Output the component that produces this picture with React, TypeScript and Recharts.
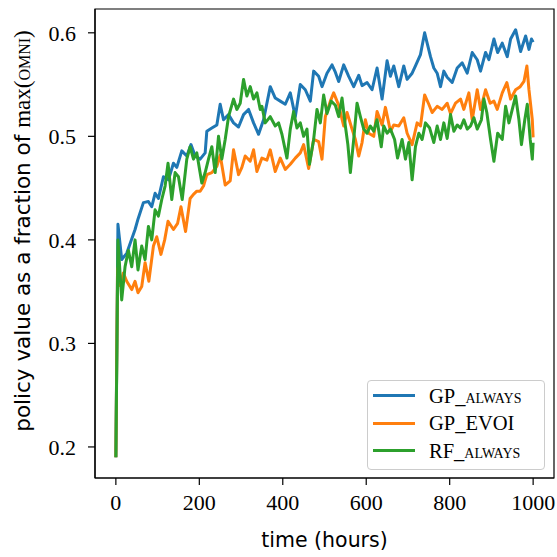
import { LineChart, Line, XAxis, YAxis, ReferenceArea } from 'recharts'

// [hours, fraction of max(OMNI)]
const gpAlways: [number, number][] = [
  [0, 0.19], [5, 0.415], [14, 0.381], [26, 0.387], [46, 0.41], [53, 0.42], [66, 0.436], [78, 0.437],
  [86, 0.432], [94, 0.445], [102, 0.44], [114, 0.461], [126, 0.458], [138, 0.474], [146, 0.47], [158, 0.486],
  [170, 0.481], [180, 0.492], [190, 0.481], [202, 0.478], [214, 0.484], [218, 0.505], [230, 0.508], [242, 0.511],
  [250, 0.531], [258, 0.516], [270, 0.521], [282, 0.513], [294, 0.509], [306, 0.521], [318, 0.526], [330, 0.513],
  [342, 0.502], [354, 0.516], [370, 0.548], [382, 0.537], [394, 0.534], [406, 0.531], [418, 0.542], [430, 0.519],
  [442, 0.55], [454, 0.545], [466, 0.534], [474, 0.563], [486, 0.558], [494, 0.548], [506, 0.561], [518, 0.569],
  [526, 0.562], [534, 0.553], [546, 0.569], [558, 0.558], [570, 0.548], [582, 0.559], [590, 0.549], [602, 0.552],
  [614, 0.545], [626, 0.566], [638, 0.536], [650, 0.573], [658, 0.558], [666, 0.568], [678, 0.548], [690, 0.568],
  [698, 0.555], [710, 0.561], [718, 0.568], [730, 0.579], [740, 0.6], [746, 0.59], [754, 0.577], [762, 0.566],
  [770, 0.561], [778, 0.548], [786, 0.563], [794, 0.557], [806, 0.552], [818, 0.566], [830, 0.571], [842, 0.561],
  [854, 0.581], [866, 0.574], [874, 0.563], [886, 0.581], [894, 0.574], [906, 0.594], [915, 0.581], [926, 0.59],
  [938, 0.577], [946, 0.594], [958, 0.603], [970, 0.582], [982, 0.597], [990, 0.584], [996, 0.594], [1000, 0.591],
]

const gpEvoi: [number, number][] = [
  [0, 0.19], [4, 0.372], [10, 0.356], [18, 0.368], [26, 0.36], [38, 0.352], [46, 0.36], [53, 0.349],
  [62, 0.355], [70, 0.378], [79, 0.36], [90, 0.394], [98, 0.403], [108, 0.386], [117, 0.4], [125, 0.418],
  [138, 0.41], [148, 0.416], [156, 0.432], [167, 0.408], [178, 0.44], [186, 0.444], [194, 0.447], [202, 0.447],
  [210, 0.452], [218, 0.463], [230, 0.465], [242, 0.471], [250, 0.482], [262, 0.453], [274, 0.457], [282, 0.487],
  [294, 0.463], [302, 0.47], [310, 0.481], [322, 0.476], [330, 0.487], [338, 0.466], [350, 0.479], [362, 0.477],
  [370, 0.487], [382, 0.466], [394, 0.479], [406, 0.468], [418, 0.473], [430, 0.479], [442, 0.484], [450, 0.492],
  [462, 0.469], [474, 0.497], [486, 0.495], [494, 0.478], [502, 0.519], [514, 0.534], [522, 0.542], [534, 0.53],
  [546, 0.51], [554, 0.523], [566, 0.507], [574, 0.497], [582, 0.481], [590, 0.494], [598, 0.516], [606, 0.503],
  [618, 0.5], [626, 0.524], [638, 0.511], [646, 0.528], [658, 0.505], [666, 0.511], [678, 0.51], [690, 0.518],
  [698, 0.503], [710, 0.492], [722, 0.513], [730, 0.51], [740, 0.54], [750, 0.531], [758, 0.523], [770, 0.529],
  [782, 0.526], [794, 0.532], [802, 0.522], [814, 0.532], [826, 0.536], [834, 0.526], [846, 0.542], [854, 0.516],
  [866, 0.545], [874, 0.526], [886, 0.545], [897, 0.532], [906, 0.534], [914, 0.526], [926, 0.542], [937, 0.552],
  [946, 0.536], [958, 0.545], [969, 0.548], [978, 0.553], [985, 0.568], [990, 0.545], [998, 0.516], [1000, 0.499],
]

const rfAlways: [number, number][] = [
  [0, 0.19], [5, 0.4], [14, 0.342], [22, 0.374], [30, 0.39], [38, 0.374], [46, 0.4], [53, 0.371],
  [62, 0.394], [70, 0.381], [78, 0.413], [86, 0.4], [94, 0.429], [102, 0.423], [110, 0.439], [118, 0.452],
  [125, 0.474], [134, 0.439], [142, 0.465], [150, 0.461], [159, 0.439], [170, 0.478], [178, 0.49], [186, 0.478],
  [194, 0.484], [206, 0.455], [214, 0.465], [222, 0.478], [230, 0.49], [238, 0.465], [246, 0.5], [254, 0.478],
  [262, 0.497], [270, 0.519], [282, 0.536], [290, 0.526], [298, 0.532], [306, 0.555], [314, 0.539], [322, 0.548],
  [330, 0.536], [338, 0.542], [346, 0.526], [350, 0.529], [358, 0.513], [370, 0.519], [382, 0.51], [390, 0.513],
  [398, 0.502], [410, 0.479], [418, 0.507], [426, 0.524], [434, 0.508], [442, 0.513], [450, 0.5], [458, 0.507],
  [464, 0.473], [474, 0.497], [482, 0.526], [490, 0.513], [498, 0.54], [506, 0.522], [516, 0.534], [526, 0.53],
  [534, 0.519], [542, 0.537], [550, 0.51], [556, 0.492], [562, 0.465], [570, 0.497], [578, 0.532], [586, 0.519],
  [594, 0.507], [602, 0.503], [610, 0.51], [618, 0.505], [626, 0.516], [636, 0.49], [642, 0.51], [650, 0.503],
  [658, 0.507], [668, 0.497], [675, 0.479], [686, 0.497], [694, 0.478], [702, 0.494], [710, 0.458], [718, 0.49],
  [726, 0.503], [734, 0.497], [742, 0.513], [752, 0.508], [762, 0.494], [770, 0.51], [778, 0.497], [786, 0.513],
  [794, 0.498], [802, 0.521], [810, 0.505], [818, 0.511], [826, 0.508], [834, 0.516], [842, 0.507], [850, 0.51],
  [858, 0.518], [866, 0.507], [876, 0.516], [882, 0.536], [889, 0.523], [898, 0.497], [906, 0.476], [915, 0.503],
  [926, 0.497], [934, 0.529], [942, 0.513], [950, 0.526], [958, 0.539], [966, 0.516], [972, 0.492], [980, 0.516],
  [986, 0.531], [993, 0.497], [998, 0.478], [1000, 0.494],
]

const xTicks = [0, 200, 400, 600, 800, 1000]
const yTicks = [0.2, 0.3, 0.4, 0.5, 0.6]
const xDomain: [number, number] = [-50, 1050]
const yDomain: [number, number] = [0.17, 0.623]

const series = [
  { key: 'gpAlways', pre: 'GP_', name: 'always', caps: true, color: '#1f77b4', data: gpAlways },
  { key: 'gpEvoi', pre: 'GP_', name: 'EVOI', caps: false, color: '#ff7f0e', data: gpEvoi },
  { key: 'rfAlways', pre: 'RF_', name: 'always', caps: true, color: '#2ca02c', data: rfAlways },
]

const SERIF = '"Liberation Serif", "DejaVu Serif", serif'
const SANS = '"DejaVu Sans", sans-serif'

const toRows = (pts: [number, number][]) => pts.map(([t, v]) => ({ t, v }))

function YLabel() {
  return (
    <text transform="translate(30,231) rotate(-90)" textAnchor="middle" fill="#000">
      <tspan fontFamily={SANS} fontSize={21.5}>policy value as a fraction of </tspan>
      <tspan fontFamily={SERIF} fontSize={23}>max(</tspan>
      <tspan fontFamily={SERIF} fontSize={23} style={{ fontVariant: 'small-caps' }}>omni</tspan>
      <tspan fontFamily={SERIF} fontSize={23}>)</tspan>
    </text>
  )
}

function LegendBox() {
  return (
    <div
      style={{
        position: 'absolute', left: 367, top: 380, width: 178, height: 90, boxSizing: 'border-box',
        border: '1px solid #cccccc', borderRadius: 4, background: 'rgba(255,255,255,0.8)', paddingTop: 1,
        fontFamily: SERIF, fontSize: 20.5, color: '#000',
      }}
    >
      {series.map((s) => (
        <div key={s.key} style={{ display: 'flex', alignItems: 'center', height: 27.5, paddingLeft: 5 }}>
          <span style={{ display: 'inline-block', width: 42, height: 3, background: s.color }} />
          <span style={{ marginLeft: 14, lineHeight: 1, whiteSpace: 'nowrap' }}>
            {s.pre}
            <span style={{ fontVariant: s.caps ? 'small-caps' : 'normal' }}>{s.name}</span>
          </span>
        </div>
      ))}
    </div>
  )
}

export default function App() {
  const tick = { fontFamily: SERIF, fontSize: 22, fill: '#000' }
  const axisStroke = { stroke: '#000', strokeWidth: 1.2 }
  return (
    <div style={{ position: 'absolute', left: 0, top: 0, width: 557, height: 557, background: '#fff' }}>
      <LineChart width={557} height={557} margin={{ top: 9, right: 3, bottom: 0, left: 0 }}>
        <XAxis
          dataKey="t" type="number" domain={xDomain} ticks={xTicks} allowDataOverflow
          height={79} tickSize={7} tickMargin={9} tick={tick} axisLine={axisStroke} tickLine={axisStroke}
          label={{ value: 'time (hours)', position: 'insideBottom', offset: 10, fontFamily: SANS, fontSize: 20.5, fill: '#000' }}
        />
        <YAxis
          type="number" domain={yDomain} ticks={yTicks} allowDataOverflow width={95}
          tickSize={7} tickMargin={12} tick={tick} tickFormatter={(v: number) => v.toFixed(1)}
          axisLine={axisStroke} tickLine={axisStroke} label={<YLabel />}
        />
        {series.map((s) => (
          <Line
            key={s.key} data={toRows(s.data)} dataKey="v" name={s.key} type="linear" stroke={s.color}
            strokeWidth={3} strokeLinejoin="round" dot={false} activeDot={false} isAnimationActive={false}
          />
        ))}
        <ReferenceArea
          x1={xDomain[0]} x2={xDomain[1]} y1={yDomain[0]} y2={yDomain[1]}
          fill="none" fillOpacity={0} stroke="#000" strokeWidth={1.2} ifOverflow="visible"
        />
      </LineChart>
      <LegendBox />
    </div>
  )
}
